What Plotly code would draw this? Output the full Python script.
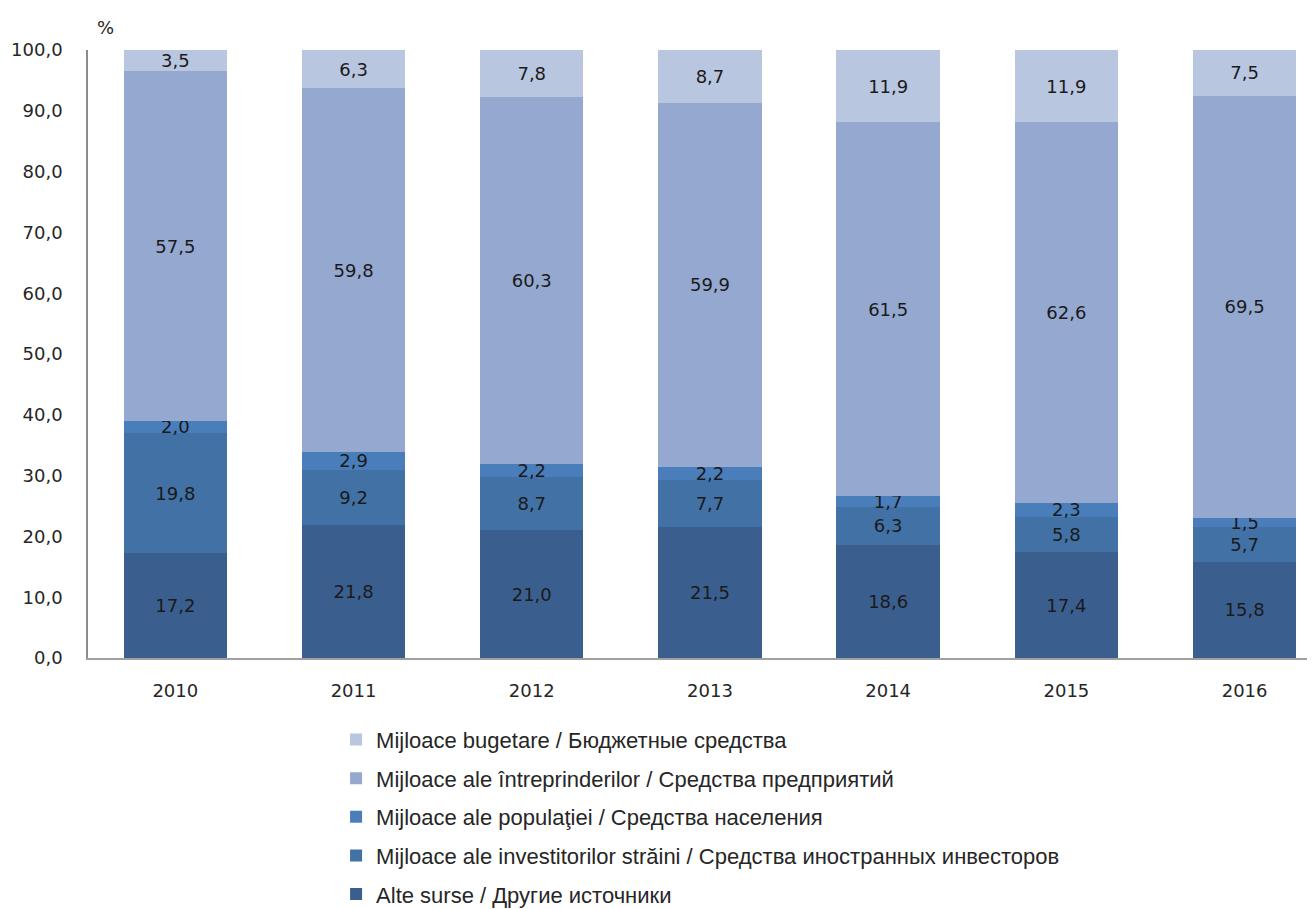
import plotly.graph_objects as go

years = ["2010", "2011", "2012", "2013", "2014", "2015", "2016"]
alte_surse = [17.2, 21.8, 21.0, 21.5, 18.6, 17.4, 15.8]
investitori_straini = [19.8, 9.2, 8.7, 7.7, 6.3, 5.8, 5.7]
populatie = [2.0, 2.9, 2.2, 2.2, 1.7, 2.3, 1.5]
intreprinderi = [57.5, 59.8, 60.3, 59.9, 61.5, 62.6, 69.5]
bugetare = [3.5, 6.3, 7.8, 8.7, 11.9, 11.9, 7.5]

series = [
    ("Alte surse / Другие источники", alte_surse, "#3A5F8F"),
    ("Mijloace ale investitorilor străini / Средства иностранных инвесторов", investitori_straini, "#4271A6"),
    ("Mijloace ale populaţiei / Средства населения", populatie, "#4A7EBB"),
    ("Mijloace ale întreprinderilor / Средства предприятий", intreprinderi, "#95A9D0"),
    ("Mijloace bugetare / Бюджетные средства", bugetare, "#B9C6E0"),
]

LBL_FONT = "DejaVu Sans"
LEG_FONT = "Liberation Sans, Arial"

fig = go.Figure()
n = len(series)
for i, (name, vals, col) in enumerate(series):
    fig.add_trace(go.Bar(
        x=years, y=vals, name=name, legendgroup=str(i), legendrank=n - i,
        marker=dict(color=col, line=dict(width=0)),
        width=0.58,
        texttemplate="%{y:.1f}", textposition="inside", insidetextanchor="middle",
        textangle=0, constraintext="none",
        textfont=dict(family=LBL_FONT, size=18, color="#1a1a1a"),
        hoverinfo="skip",
    ))

fig.update_layout(
    width=1315, height=909,
    barmode="stack",
    separators=",.",
    paper_bgcolor="white", plot_bgcolor="white",
    margin=dict(l=80, r=13, t=42, b=259, autoexpand=False),
    font=dict(family=LBL_FONT, size=18, color="#262626"),
    showlegend=True,
    legend=dict(
        traceorder="grouped", tracegroupgap=7,
        x=0.203, xanchor="left", y=-0.100, yanchor="top",
        font=dict(family=LEG_FONT, size=22, color="#262626"),
        itemwidth=30,
    ),
    xaxis=dict(
        type="category", range=[-0.49, 6.367],
        showline=True, linecolor="#A0A0A0", linewidth=1.5,
        ticks="", showgrid=False, ticklabelstandoff=16,
        tickfont=dict(family=LBL_FONT, size=18, color="#262626"),
    ),
    yaxis=dict(
        range=[0, 100], tickvals=[0, 10, 20, 30, 40, 50, 60, 70, 80, 90, 100],
        tickformat=".1f", showline=True, linecolor="#8C8C8C", linewidth=1.5,
        ticks="", showgrid=False, zeroline=False, ticklabelstandoff=20,
        tickfont=dict(family=LBL_FONT, size=18, color="#262626"),
    ),
    annotations=[dict(
        text="%", xref="paper", yref="paper", x=0.0057, y=1.0378,
        xanchor="left", yanchor="middle", showarrow=False,
        font=dict(family=LBL_FONT, size=18, color="#262626"),
    )],
)

fig.write_html("out.html")
